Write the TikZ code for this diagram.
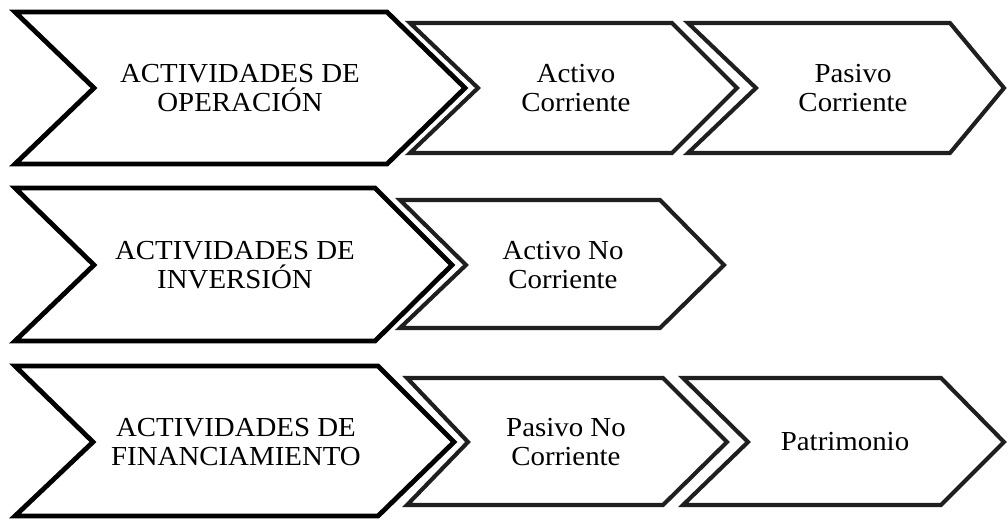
\documentclass[tikz,border=0pt]{standalone}
\usepackage{fontspec}
\setmainfont{Liberation Serif}[FakeStretch=1.05]
\newlength{\lwbig}
\setlength{\lwbig}{4.8pt}
\newlength{\lwsmall}
\setlength{\lwsmall}{4.1pt}

\begin{document}
\begin{tikzpicture}[x=1pt,y=-1pt,
    bigchev/.style={draw=black,line width=\lwbig,line join=miter},
    smallchev/.style={draw=black!88,line width=\lwsmall,line join=miter},
    lbl/.style={align=center,font=\fontsize{27.5}{29.5}\selectfont,inner sep=0pt}]
    \useasboundingbox (0,0) rectangle (1008,519);
    % operacion
    \draw[bigchev] (15,12)--(387,12)--(465,88)--(387,164)--(15,164)--(94,88)--cycle;
    \draw[smallchev] (410,23)--(672,23)--(737,88)--(672,153)--(410,153)--(478,88)--cycle;
    \draw[smallchev] (688,23)--(950,23)--(1004,88)--(950,153)--(688,153)--(756,88)--cycle;
    \node[lbl] (oper) at (240,88) {ACTIVIDADES DE\\OPERACIÓN};
    \node[lbl] (actc) at (576,88) {Activo\\Corriente};
    \node[lbl] (pasc) at (853,88) {Pasivo\\Corriente};
    % inversion
    \draw[bigchev] (15,188)--(375,188)--(452,265)--(375,341)--(15,341)--(94,265)--cycle;
    \draw[smallchev] (400,200)--(660,200)--(724,265)--(660,328)--(400,328)--(466,265)--cycle;
    \node[lbl] (inve) at (235,265) {ACTIVIDADES DE\\INVERSIÓN};
    \node[lbl] (actnc) at (563,265) {Activo No\\Corriente};
    % financiamiento
    \draw[bigchev] (15,366)--(378,366)--(454,442)--(378,516)--(15,516)--(93,442)--cycle;
    \draw[smallchev] (407,378)--(663,378)--(727,442)--(663,505)--(407,505)--(468,442)--cycle;
    \draw[smallchev] (683,378)--(941,378)--(1004,442)--(941,505)--(683,505)--(748,442)--cycle;
    \node[lbl] (fina) at (236,442) {ACTIVIDADES DE\\FINANCIAMIENTO};
    \node[lbl] (pasnc) at (566,442) {Pasivo No\\Corriente};
    \node[lbl] (patr) at (845,442) {Patrimonio};
\end{tikzpicture}
\end{document}
